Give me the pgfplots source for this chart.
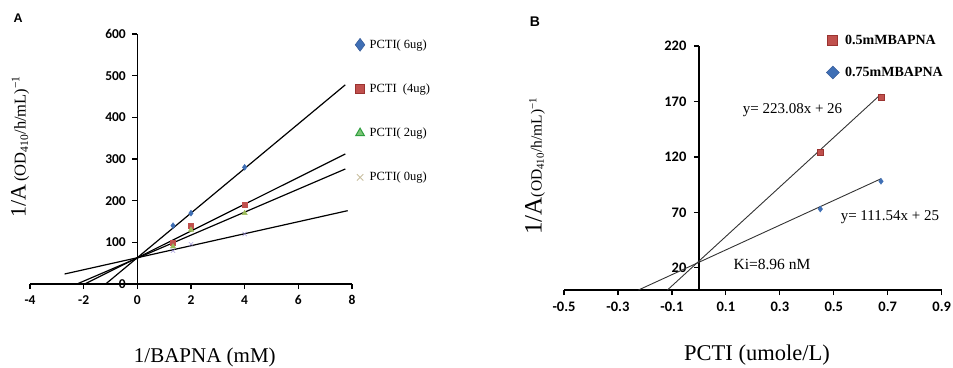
\documentclass[border=0pt]{standalone}
\usepackage{fontspec}
\setmainfont{Liberation Serif}
\newfontfamily\carlito{Carlito}
\newfontfamily\arialf{Liberation Sans}
\usepackage{pgfplots}
\pgfplotsset{compat=1.18}
\definecolor{cblue}{HTML}{3F6FB5}
\definecolor{cbluedk}{HTML}{2F528F}
\definecolor{cred}{HTML}{C0504D}
\definecolor{creddk}{HTML}{9A3330}
\definecolor{cgreen}{HTML}{9BBB59}
\definecolor{cgreenL}{HTML}{7CC576}
\definecolor{cgreendk}{HTML}{2E9E3E}
\definecolor{cpurple}{HTML}{8A7FD0}
\definecolor{ctan}{HTML}{C9BFA0}
\definecolor{cgray}{HTML}{333333}
\begin{document}
\begin{tikzpicture}
\useasboundingbox (0,0) rectangle (953pt,367pt);
\pgfplotsset{
  common/.style={
    scale only axis,
    anchor=south west,
    axis x line*=bottom,
    axis y line*=middle,
    hide obscured x ticks=false,
    hide obscured y ticks=false,
    tick align=outside,
    major tick length=5pt,
    axis line style={line width=1.3pt, black},
    every tick/.style={line width=1.2pt, black},
    /pgf/number format/assume math mode=true,
    clip=false,
    legend style={draw=none, fill=none},
    legend cell align=left,
  }
}
% ---------------- Panel A ----------------
\begin{axis}[common,
  at={(30pt,83pt)}, width=322pt, height=250pt,
  xmin=-4, xmax=8, ymin=0, ymax=600,
  xtick={-4,-2,0,2,4,6,8}, ytick={0,100,200,300,400,500,600},
  tick label style={font=\carlito\bfseries\fontsize{13.5}{14}\selectfont},
  x tick label style={yshift=-3pt},
  y tick label style={xshift=-3pt},
  every axis y label/.style={at={(axis description cs:-0.031,0.55)}, rotate=90, anchor=center},
  ylabel={{\fontsize{22}{24}\selectfont 1/A}\ {\fontsize{16.5}{17}\selectfont (OD\textsubscript{410}/h/mL)\textsuperscript{−1}}},
  every axis x label/.style={at={(axis description cs:0.543,-0.316)}, anchor=base},
  xlabel={\fontsize{21}{24}\selectfont 1/BAPNA (mM)},
  legend style={at={(axis description cs:0.995,0.994)}, anchor=north west,
    font=\fontsize{12.5}{13}\selectfont, row sep=30pt},
  legend image code/.code={\path (-6pt,0pt) (7pt,0pt); \draw[#1] plot coordinates {(0pt,0pt)};},
]
\addplot[black, line width=1.2pt, forget plot] coordinates {(-1.18,0) (7.75,478)};
\addplot[black, line width=1.2pt, forget plot] coordinates {(-1.96,0) (7.75,312)};
\addplot[black, line width=1.2pt, forget plot] coordinates {(-2.25,0) (7.75,276)};
\addplot[black, line width=1.2pt, forget plot] coordinates {(-2.71,24) (7.84,176)};
\addplot[only marks, mark=diamond*, mark size=3pt, color=cblue, forget plot] coordinates {(1.33,140) (2,170) (4,280)};
\addplot[only marks, mark=square*, mark size=2.6pt, color=cred, forget plot] coordinates {(1.33,100) (2,140) (4,190)};
\addplot[only marks, mark=triangle*, mark size=3pt, color=cgreen, forget plot] coordinates {(1.33,90) (2,130) (4,170)};
\addplot[only marks, mark=x, mark size=3pt, color=cpurple, forget plot] coordinates {(1.33,80) (2,95) (4,120)};
\addlegendimage{only marks, mark=diamond*, mark size=6.5pt, draw=cbluedk, fill=cblue}
\addlegendentry{PCTI( 6ug)}
\addlegendimage{only marks, mark=square*, mark size=4.5pt, draw=creddk, fill=cred}
\addlegendentry{PCTI \ (4ug)}
\addlegendimage{only marks, mark=triangle*, mark size=5pt, draw=cgreendk, fill=cgreenL, line width=1pt}
\addlegendentry{PCTI( 2ug)}
\addlegendimage{only marks, mark=x, mark size=4.5pt, draw=ctan, line width=0.9pt}
\addlegendentry{PCTI( 0ug)}
\node[font=\arialf\bfseries\fontsize{12.5}{13}\selectfont] at (rel axis cs:-0.037,1.064) {A};
\end{axis}
% ---------------- Panel B ----------------
\begin{axis}[common,
  at={(564pt,77pt)}, width=377.7pt, height=244pt,
  xmin=-0.5, xmax=0.9, ymin=0, ymax=220,
  xtick={-0.5,-0.3,-0.1,0.1,0.3,0.5,0.7,0.9}, ytick={20,70,120,170,220},
  tick label style={font=\carlito\bfseries\fontsize{14.5}{15}\selectfont},
  x tick label style={yshift=-3pt, /pgf/number format/fixed, /pgf/number format/precision=1, /pgf/number format/fixed zerofill},
  y tick label style={xshift=-4pt},
  every axis y label/.style={at={(axis description cs:-0.077,0.508)}, rotate=90, anchor=center},
  ylabel={{\fontsize{25}{26}\selectfont 1/A}{\fontsize{15.5}{16}\selectfont (OD\textsubscript{410}/h/mL)\textsuperscript{−1}}},
  every axis x label/.style={at={(axis description cs:0.511,-0.287)}, anchor=base},
  xlabel={\fontsize{22.5}{24}\selectfont PCTI (umole/L)},
  legend style={at={(axis description cs:0.686,1.061)}, anchor=north west,
    font=\bfseries\fontsize{14}{15}\selectfont, row sep=17pt},
  legend image code/.code={\path (-6pt,0pt) (10pt,0pt); \draw[#1] plot coordinates {(0pt,0pt)};},
]
\addplot[cgray, line width=0.9pt, forget plot] coordinates {(-0.1166,0) (0.675,176.6)};
\addplot[cgray, line width=0.9pt, forget plot] coordinates {(-0.224,0) (0.675,100.3)};
\addplot[only marks, mark=square*, mark size=3pt, draw=creddk, fill=cred, forget plot] coordinates {(0.45,124) (0.675,174)};
\addplot[only marks, mark=diamond*, mark size=3pt, color=cblue, forget plot] coordinates {(0.45,73) (0.675,98)};
\addlegendimage{only marks, mark=square*, mark size=5pt, draw=creddk, fill=cred, line width=0.8pt}
\addlegendentry{0.5mMBAPNA}
\addlegendimage{only marks, mark=square*, mark size=4.6pt, mark options={rotate=45}, draw=cbluedk, fill=cblue}
\addlegendentry{0.75mMBAPNA}
\node[font=\fontsize{15}{16}\selectfont] at (axis cs:0.347,162) {y= 223.08x + 26};
\node[font=\fontsize{15}{16}\selectfont] at (axis cs:0.708,66) {y= 111.54x + 25};
\node[font=\fontsize{15.5}{16}\selectfont] at (axis cs:0.271,23.2) {Ki=8.96 nM};
\node[font=\arialf\bfseries\fontsize{14}{15}\selectfont] at (rel axis cs:-0.077,1.098) {B};
\end{axis}
\end{tikzpicture}
\end{document}
